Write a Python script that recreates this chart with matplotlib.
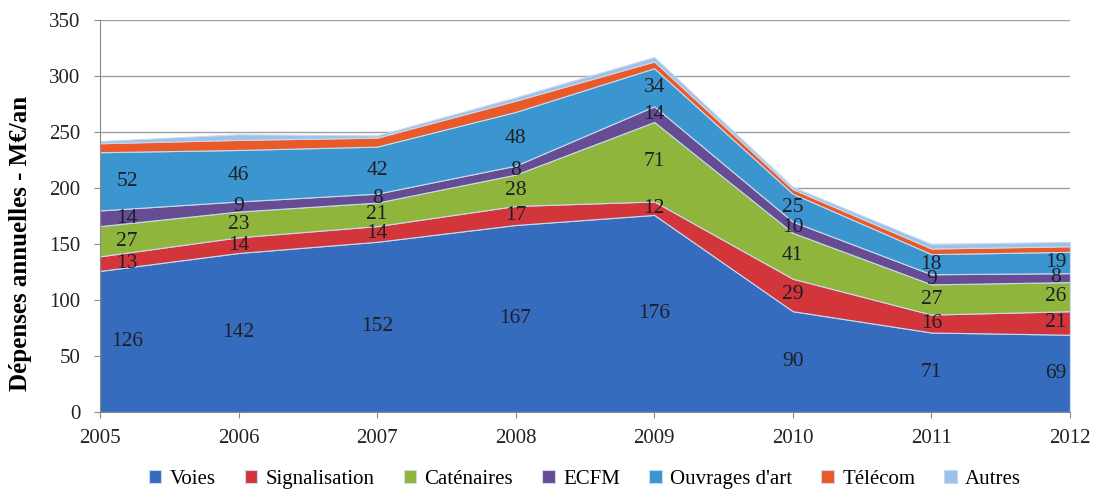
import matplotlib
matplotlib.use("Agg")
import matplotlib.pyplot as plt
import matplotlib.transforms as mtransforms
import numpy as np

years = [2005, 2006, 2007, 2008, 2009, 2010, 2011, 2012]
series_names = ["Voies", "Signalisation", "Caténaires", "ECFM",
                "Ouvrages d'art", "Télécom", "Autres"]
voies = [126, 142, 152, 167, 176, 90, 71, 69]
signalisation = [13, 14, 14, 17, 12, 29, 16, 21]
catenaires = [27, 23, 21, 28, 71, 41, 27, 26]
ecfm = [14, 9, 8, 8, 14, 10, 9, 8]
ouvrages = [52, 46, 42, 48, 34, 25, 18, 19]
telecom = [8, 9, 8, 10, 6, 4, 5, 5]
autres = [2, 5, 2, 3, 4, 2, 4, 4]

colors = ["#356cbd", "#d2353a", "#8fb53c", "#654c93", "#3b96cf", "#e95a28", "#9dc1e8"]
labelled = [True, True, True, True, True, False, False]

plt.rcParams['font.family'] = ['Liberation Serif', 'DejaVu Serif']

fig = plt.figure(figsize=(10.96, 4.92), dpi=100)
ax = fig.add_axes([0.0912, 0.1626, 0.885, 0.7966])

data = [voies, signalisation, catenaires, ecfm, ouvrages, telecom, autres]
ax.stackplot(years, *data, colors=colors, labels=series_names,
             edgecolor="#c9d9ee", linewidth=0.8)

ax.set_xlim(2005, 2012)
ax.set_ylim(0, 350)
ax.set_yticks(range(0, 351, 50))
ax.set_xticks(years)
ax.yaxis.grid(True, color="#a0a0a0", linewidth=1.0)
ax.set_axisbelow(True)
for s in ["top", "right"]:
    ax.spines[s].set_visible(False)
for s in ["left", "bottom"]:
    ax.spines[s].set_color("#8a8a8a")
ax.tick_params(axis="both", colors="#8a8a8a", labelcolor="#222222",
               labelsize=15, length=4)
ax.tick_params(axis="y", pad=10)
ax.tick_params(axis="x", pad=8)
ax.set_ylabel("Dépenses annuelles - M€/an", fontsize=18, fontweight="bold")
ax.yaxis.set_label_coords(-0.070, 0.43)

# value labels centred in each band
cum = np.zeros(len(years))
for vals, show in zip(data, labelled):
    vals = np.array(vals, dtype=float)
    if show:
        for i, (x, v) in enumerate(zip(years, vals)):
            y = cum[i] + v / 2
            if i == 0:
                off = mtransforms.offset_copy(ax.transData, fig=fig, x=27, y=0, units="dots")
            elif i == len(years) - 1:
                off = mtransforms.offset_copy(ax.transData, fig=fig, x=-14, y=0, units="dots")
            else:
                off = ax.transData
            ax.text(x, y, f"{int(v)}", transform=off, ha="center", va="center",
                    fontsize=15.5, color="#1f1f2a")
    cum += vals

ax.legend(loc="upper center", bbox_to_anchor=(0.5, -0.1), ncol=7, frameon=False,
          fontsize=15, handlelength=0.6, handleheight=0.6, handletextpad=0.4,
          columnspacing=1.4)

fig.savefig("out.png", dpi=100)
